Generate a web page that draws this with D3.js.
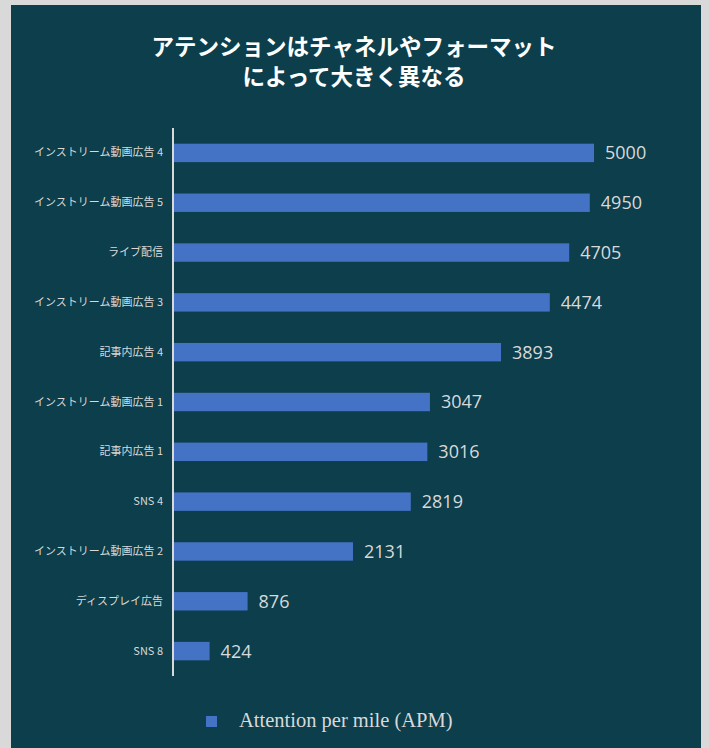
<!DOCTYPE html>
<html>
<head>
<meta charset="utf-8">
<script src="https://cdn.jsdelivr.net/npm/d3@7/dist/d3.min.js"></script>
<style>
  html, body { margin: 0; padding: 0; background: #d9d9d9; }
  svg { display: block; }
</style>
</head>
<body>
<svg id="chart" width="709" height="748"></svg>
<script>
// Attention per mile by channel / format
const categories = [
  "インストリーム動画広告 4",
  "インストリーム動画広告 5",
  "ライブ配信",
  "インストリーム動画広告 3",
  "記事内広告 4",
  "インストリーム動画広告 1",
  "記事内広告 1",
  "SNS 4",
  "インストリーム動画広告 2",
  "ディスプレイ広告",
  "SNS 8"
];
const values = [5000, 4950, 4705, 4474, 3893, 3047, 3016, 2819, 2131, 876, 424];
const titleLines = ["アテンションはチャネルやフォーマット", "によって大きく異なる"];
const seriesName = "Attention per mile (APM)";

const svg = d3.select("#chart");
const bg = "#0c3e4b";
const barColor = "#4472c4";
const textColor = "#d9d9d9";

// panel
svg.append("rect")
  .attr("x", 11).attr("y", 5)
  .attr("width", 690).attr("height", 748)
  .attr("fill", bg);

// title
svg.append("g")
  .selectAll("text")
  .data(titleLines)
  .join("text")
  .attr("x", 354)
  .attr("y", (d, i) => 55 + i * 29.5)
  .attr("text-anchor", "middle")
  .attr("fill", "#ffffff")
  .attr("font-family", "'Noto Sans CJK JP', sans-serif")
  .attr("font-weight", "bold")
  .attr("font-size", 22.5)
  .text(d => d);

// scales
const x = d3.scaleLinear().domain([0, 5000]).range([174, 594]);
const y = d3.scaleBand().domain(categories).range([128, 676]).paddingInner(0.63).paddingOuter(0.315);

// bars
svg.append("g")
  .selectAll("rect")
  .data(values)
  .join("rect")
  .attr("x", x(0))
  .attr("y", (d, i) => y(categories[i]))
  .attr("width", d => x(d) - x(0))
  .attr("height", y.bandwidth())
  .attr("fill", barColor);

// value labels
svg.append("g")
  .selectAll("text")
  .data(values)
  .join("text")
  .attr("x", d => x(d) + 11)
  .attr("y", (d, i) => y(categories[i]) + y.bandwidth() / 2)
  .attr("dy", "0.36em")
  .attr("fill", textColor)
  .attr("font-family", "'Open Sans', sans-serif")
  .attr("font-size", 18)
  .text(d => d);

// category axis
const axis = d3.axisLeft(y).tickSize(0).tickPadding(10);
const gAxis = svg.append("g")
  .attr("transform", "translate(173,0)")
  .call(axis);
gAxis.select(".domain")
  .attr("stroke", textColor)
  .attr("stroke-width", 2)
  .attr("d", "M0,128V676");
gAxis.selectAll(".tick text")
  .attr("fill", textColor)
  .attr("font-family", "'Noto Sans CJK JP', sans-serif")
  .attr("font-size", 11);

// legend
const legend = svg.append("g");
legend.append("rect")
  .attr("x", 206).attr("y", 716)
  .attr("width", 11).attr("height", 11)
  .attr("fill", barColor);
legend.append("text")
  .attr("x", 239).attr("y", 727)
  .attr("fill", textColor)
  .attr("font-family", "'Liberation Serif', serif")
  .attr("font-size", 20.5)
  .text(seriesName);
</script>
</body>
</html>
